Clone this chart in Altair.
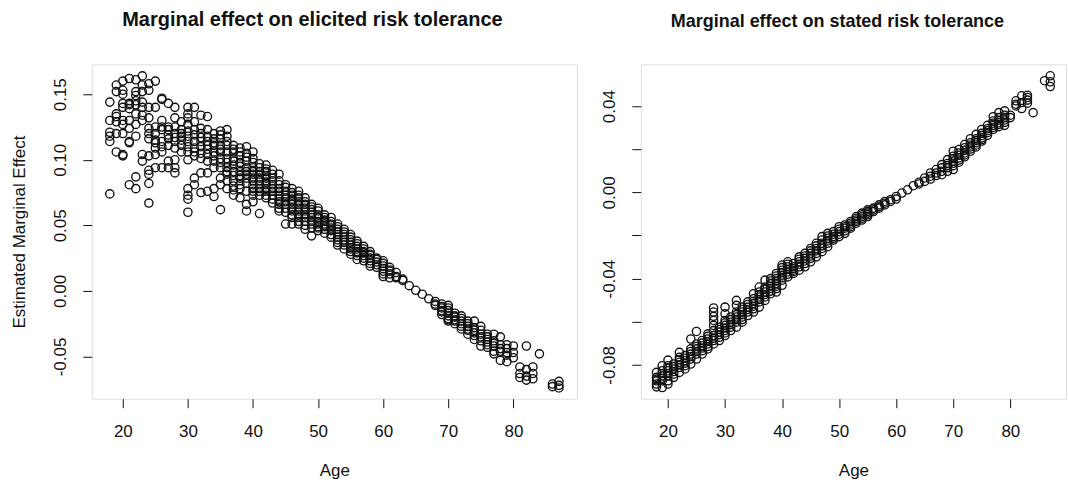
import altair as alt
import pandas as pd

# ---------------- data ----------------
AGES_ELICITED = [18, 19, 20, 21, 22, 23, 24, 25, 26, 27, 28, 29, 30, 31, 32, 33, 34, 35,
                 36, 37, 38, 39, 40, 41, 42, 43, 44, 45, 46, 47, 48, 49, 50, 51, 52, 53,
                 54, 55, 56, 57, 58, 59, 60, 61, 62, 63, 64, 65, 66, 67, 68, 69, 70, 71,
                 72, 73, 74, 75, 76, 77, 78, 79, 80, 81, 82, 83, 84, 86, 87]
EFFECT_ELICITED = [
    [0.144, 0.130, 0.121, 0.118, 0.114, 0.074],
    [0.157, 0.152, 0.135, 0.129, 0.120, 0.106, 0.133],
    [0.160, 0.153, 0.143, 0.140, 0.130, 0.127, 0.120, 0.104, 0.103, 0.150],
    [0.162, 0.143, 0.142, 0.130, 0.124, 0.114, 0.113, 0.081, 0.139],
    [0.161, 0.152, 0.149, 0.142, 0.135, 0.127, 0.118, 0.087, 0.078, 0.145],
    [0.164, 0.157, 0.152, 0.140, 0.134, 0.130, 0.104, 0.099, 0.144],
    [0.158, 0.153, 0.140, 0.132, 0.124, 0.116, 0.103, 0.092, 0.089, 0.082, 0.067, 0.120],
    [0.160, 0.140, 0.125, 0.115, 0.113, 0.109, 0.104, 0.094, 0.120],
    [0.147, 0.146, 0.130, 0.125, 0.123, 0.114, 0.106, 0.094, 0.110],
    [0.143, 0.125, 0.123, 0.119, 0.111, 0.099, 0.094, 0.116],
    [0.140, 0.132, 0.125, 0.120, 0.114, 0.109, 0.100, 0.094, 0.090, 0.117],
    [0.129, 0.123, 0.118, 0.111, 0.106, 0.115, 0.120],
    [0.140, 0.135, 0.132, 0.127, 0.122, 0.114, 0.106, 0.100, 0.078, 0.073, 0.070, 0.060, 0.118, 0.110],
    [0.140, 0.129, 0.123, 0.114, 0.109, 0.103, 0.086, 0.081, 0.119, 0.106],
    [0.134, 0.124, 0.120, 0.114, 0.105, 0.101, 0.090, 0.075, 0.117, 0.110],
    [0.133, 0.123, 0.118, 0.111, 0.104, 0.099, 0.090, 0.076, 0.114, 0.108],
    [0.120, 0.116, 0.111, 0.106, 0.099, 0.094, 0.078, 0.072, 0.113, 0.103],
    [0.122, 0.116, 0.111, 0.106, 0.101, 0.094, 0.086, 0.081, 0.062, 0.119, 0.108, 0.098],
    [0.123, 0.118, 0.114, 0.106, 0.101, 0.094, 0.089, 0.084, 0.078, 0.111, 0.098, 0.091],
    [0.111, 0.106, 0.101, 0.096, 0.091, 0.084, 0.077, 0.073, 0.108, 0.099, 0.088, 0.080],
    [0.109, 0.103, 0.098, 0.091, 0.086, 0.081, 0.071, 0.106, 0.095, 0.088, 0.078],
    [0.110, 0.105, 0.099, 0.094, 0.089, 0.082, 0.076, 0.066, 0.061, 0.102, 0.091, 0.086],
    [0.106, 0.101, 0.094, 0.089, 0.084, 0.078, 0.073, 0.068, 0.098, 0.091, 0.086, 0.081, 0.076],
    [0.097, 0.094, 0.089, 0.084, 0.078, 0.073, 0.059, 0.091, 0.086, 0.081, 0.076],
    [0.096, 0.091, 0.086, 0.081, 0.076, 0.071, 0.093, 0.088, 0.083, 0.078, 0.073],
    [0.092, 0.089, 0.084, 0.078, 0.073, 0.067, 0.086, 0.081, 0.076, 0.070],
    [0.089, 0.084, 0.078, 0.073, 0.068, 0.063, 0.061, 0.081, 0.076, 0.070, 0.066],
    [0.081, 0.076, 0.071, 0.066, 0.051, 0.079, 0.073, 0.068, 0.063, 0.060],
    [0.078, 0.073, 0.068, 0.063, 0.058, 0.051, 0.075, 0.070, 0.066, 0.061, 0.056],
    [0.076, 0.071, 0.066, 0.061, 0.056, 0.051, 0.073, 0.068, 0.063, 0.058, 0.053],
    [0.071, 0.066, 0.061, 0.056, 0.047, 0.068, 0.063, 0.058, 0.053, 0.050],
    [0.066, 0.062, 0.058, 0.053, 0.048, 0.042, 0.064, 0.060, 0.056, 0.051],
    [0.063, 0.058, 0.053, 0.049, 0.046, 0.061, 0.056, 0.051, 0.048],
    [0.058, 0.054, 0.051, 0.047, 0.044, 0.056, 0.053, 0.049],
    [0.056, 0.051, 0.048, 0.043, 0.041, 0.053, 0.050, 0.046],
    [0.051, 0.047, 0.043, 0.039, 0.035, 0.049, 0.045, 0.041, 0.037],
    [0.047, 0.043, 0.039, 0.035, 0.032, 0.045, 0.041, 0.037],
    [0.043, 0.039, 0.035, 0.032, 0.028, 0.041, 0.037, 0.033, 0.030],
    [0.038, 0.034, 0.030, 0.027, 0.024, 0.036, 0.032, 0.029],
    [0.034, 0.030, 0.027, 0.023, 0.032, 0.029, 0.025],
    [0.030, 0.027, 0.023, 0.019, 0.028, 0.025, 0.021],
    [0.025, 0.022, 0.018, 0.024, 0.020],
    [0.023, 0.019, 0.015, 0.011, 0.021, 0.017, 0.013],
    [0.018, 0.015, 0.013, 0.010, 0.016],
    [0.014, 0.011, 0.010],
    [0.009, 0.008],
    [0.004],
    [0.0005],
    [-0.0025],
    [-0.006],
    [-0.008, -0.010, -0.011],
    [-0.010, -0.013, -0.015, -0.018, -0.012, -0.016],
    [-0.011, -0.015, -0.019, -0.022, -0.023, -0.013, -0.017, -0.021],
    [-0.017, -0.020, -0.023, -0.025, -0.019, -0.022],
    [-0.019, -0.023, -0.027, -0.029, -0.021, -0.025],
    [-0.023, -0.027, -0.030, -0.033, -0.025, -0.029],
    [-0.023, -0.028, -0.030, -0.034, -0.037, -0.032],
    [-0.027, -0.030, -0.035, -0.038, -0.042, -0.033],
    [-0.033, -0.037, -0.041, -0.043, -0.035, -0.039],
    [-0.033, -0.038, -0.042, -0.046, -0.048, -0.040],
    [-0.035, -0.041, -0.046, -0.053, -0.044],
    [-0.041, -0.044, -0.049, -0.054, -0.047],
    [-0.042, -0.047, -0.051],
    [-0.058, -0.063, -0.066],
    [-0.042, -0.060, -0.065, -0.068],
    [-0.058, -0.063, -0.067],
    [-0.048],
    [-0.071, -0.073],
    [-0.069, -0.072, -0.074],
]

AGES_STATED = AGES_ELICITED
EFFECT_STATED = [
    [-0.0835, -0.0858, -0.0874, -0.0889, -0.0902, -0.0866],
    [-0.0804, -0.0827, -0.0851, -0.0874, -0.0905, -0.0840, -0.0862],
    [-0.0778, -0.0804, -0.0827, -0.0851, -0.0874, -0.0889, -0.0815, -0.0840],
    [-0.0796, -0.0819, -0.0843, -0.0858, -0.0808, -0.0831],
    [-0.0742, -0.0765, -0.0788, -0.0812, -0.0835, -0.0776, -0.0800],
    [-0.0757, -0.0781, -0.0804, -0.0819, -0.0769, -0.0792],
    [-0.0680, -0.0726, -0.0750, -0.0773, -0.0796, -0.0738, -0.0762],
    [-0.0645, -0.0703, -0.0726, -0.0750, -0.0773, -0.0715, -0.0738],
    [-0.0687, -0.0711, -0.0734, -0.0750, -0.0699, -0.0722],
    [-0.0656, -0.0680, -0.0703, -0.0726, -0.0668, -0.0692, -0.0715],
    [-0.0536, -0.0555, -0.0575, -0.0594, -0.0617, -0.0641, -0.0664, -0.0687, -0.0703, -0.0676],
    [-0.0625, -0.0648, -0.0672, -0.0687, -0.0636, -0.0660],
    [-0.0532, -0.0563, -0.0594, -0.0617, -0.0641, -0.0664, -0.0606, -0.0629, -0.0652],
    [-0.0578, -0.0602, -0.0625, -0.0641, -0.0590, -0.0613],
    [-0.0501, -0.0524, -0.0555, -0.0578, -0.0602, -0.0625, -0.0567, -0.0590],
    [-0.0532, -0.0555, -0.0578, -0.0602, -0.0543, -0.0567, -0.0590],
    [-0.0508, -0.0532, -0.0555, -0.0571, -0.0520, -0.0543],
    [-0.0470, -0.0493, -0.0516, -0.0540, -0.0555, -0.0505, -0.0528],
    [-0.0439, -0.0462, -0.0485, -0.0508, -0.0532, -0.0474, -0.0497],
    [-0.0407, -0.0439, -0.0462, -0.0485, -0.0501, -0.0450, -0.0474],
    [-0.0400, -0.0423, -0.0446, -0.0470, -0.0411, -0.0435, -0.0458],
    [-0.0376, -0.0400, -0.0423, -0.0446, -0.0462, -0.0388, -0.0411, -0.0435],
    [-0.0337, -0.0361, -0.0384, -0.0407, -0.0431, -0.0349, -0.0372, -0.0396],
    [-0.0322, -0.0345, -0.0369, -0.0392, -0.0333, -0.0357, -0.0380],
    [-0.0345, -0.0361, -0.0376, -0.0330, -0.0353, -0.0368],
    [-0.0299, -0.0322, -0.0345, -0.0361, -0.0310, -0.0333],
    [-0.0283, -0.0306, -0.0330, -0.0345, -0.0295, -0.0318],
    [-0.0260, -0.0283, -0.0306, -0.0322, -0.0271, -0.0295],
    [-0.0236, -0.0260, -0.0283, -0.0299, -0.0248, -0.0271],
    [-0.0205, -0.0236, -0.0260, -0.0275, -0.0221, -0.0248],
    [-0.0190, -0.0213, -0.0236, -0.0252, -0.0202, -0.0225],
    [-0.0182, -0.0205, -0.0221, -0.0194, -0.0213],
    [-0.0159, -0.0182, -0.0205, -0.0171, -0.0194],
    [-0.0151, -0.0166, -0.0190, -0.0159, -0.0178],
    [-0.0135, -0.0151, -0.0166, -0.0143, -0.0159],
    [-0.0112, -0.0128, -0.0143, -0.0120, -0.0135],
    [-0.0096, -0.0112, -0.0128, -0.0104, -0.0120],
    [-0.0081, -0.0096, -0.0112, -0.0089, -0.0104],
    [-0.0073, -0.0089, -0.0081],
    [-0.0058, -0.0073, -0.0066],
    [-0.0042, -0.0058, -0.0050],
    [-0.0034, -0.0042],
    [-0.0019, -0.0031],
    [-0.0003],
    [0.0012],
    [0.0031],
    [0.0047, 0.0039],
    [0.0067, 0.0051],
    [0.0090, 0.0075, 0.0062],
    [0.0106, 0.0090, 0.0078],
    [0.0129, 0.0114, 0.0098, 0.0082],
    [0.0152, 0.0134, 0.0114, 0.0098, 0.0124],
    [0.0191, 0.0168, 0.0145, 0.0124, 0.0106, 0.0157, 0.0135],
    [0.0199, 0.0183, 0.0160, 0.0140, 0.0172, 0.0150],
    [0.0222, 0.0207, 0.0183, 0.0165, 0.0195, 0.0174],
    [0.0249, 0.0230, 0.0211, 0.0191, 0.0220, 0.0201],
    [0.0269, 0.0249, 0.0230, 0.0211, 0.0240, 0.0220],
    [0.0292, 0.0274, 0.0253, 0.0238, 0.0264, 0.0245],
    [0.0311, 0.0295, 0.0277, 0.0286, 0.0265],
    [0.0351, 0.0331, 0.0311, 0.0292, 0.0321, 0.0301],
    [0.0370, 0.0347, 0.0323, 0.0305, 0.0335, 0.0315],
    [0.0378, 0.0358, 0.0336, 0.0311, 0.0347, 0.0325],
    [0.0358, 0.0347],
    [0.0425, 0.0409, 0.0401],
    [0.0448, 0.0417, 0.0389],
    [0.0451, 0.0440, 0.0428, 0.0414],
    [0.0370],
    [0.0518],
    [0.0541, 0.0513, 0.0491],
]

X_TICKS = [20, 30, 40, 50, 60, 70, 80]
Y_TICKS_LEFT = [-0.05, 0.0, 0.05, 0.10, 0.15]
Y_TICKS_RIGHT = [-0.08, -0.06, -0.04, -0.02, 0.0, 0.02, 0.04]
Y_LABELS_RIGHT = ["0.04", "0.00", "-0.04", "-0.08"]

TITLE_LEFT = "Marginal effect on elicited risk tolerance"
TITLE_RIGHT = "Marginal effect on stated risk tolerance"


def flatten(ages, groups):
    rows = []
    for a, vals in zip(ages, groups):
        for v in vals:
            rows.append({"Age": a, "Effect": v})
    return pd.DataFrame(rows)


df_left = flatten(AGES_ELICITED, EFFECT_ELICITED)
df_right = flatten(AGES_STATED, EFFECT_STATED)

FONT = "Liberation Sans"
fmt = "replace(format(datum.value, '.2f'), '\u2212', '-')"

x_common = dict(
    values=X_TICKS, format="d", tickSize=9, tickColor="#111", tickWidth=1,
    labelFontSize=17, labelPadding=16, labelColor="#111", labelFont=FONT,
    domain=False, grid=False, titleFontSize=17, titleFontWeight="normal",
    titleFont=FONT, titleColor="#111", titlePadding=26, minExtent=38, maxExtent=38,
)


def y_axis(values, label_expr, title):
    kw = dict(
        values=values, labelExpr=label_expr, tickSize=9, tickColor="#111", tickWidth=1,
        labelFontSize=17, labelPadding=13, labelAngle=-90, labelAlign="center",
        labelBaseline="bottom", labelColor="#111", labelFont=FONT,
        domain=False, grid=False, minExtent=38, maxExtent=38,
    )
    if title:
        kw.update(title=title, titleFontSize=17, titleFontWeight="normal",
                  titleFont=FONT, titleColor="#111", titlePadding=25)
    else:
        kw.update(title=None)
    return alt.Axis(**kw)


def panel(df, ydom, yaxis, width, title, tsize, tdx, toff):
    return alt.Chart(df).mark_point(
        shape="circle", filled=False, size=68, strokeWidth=1.35, color="#111", opacity=1
    ).encode(
        x=alt.X("Age:Q", scale=alt.Scale(domain=[15.24, 89.76], nice=False, zero=False),
                axis=alt.Axis(title="Age", **x_common)),
        y=alt.Y("Effect:Q", scale=alt.Scale(domain=ydom, nice=False, zero=False),
                axis=yaxis),
    ).properties(
        width=width, height=335,
        title=alt.TitleParams(title, fontSize=tsize, fontWeight="bold", font=FONT,
                              color="#111", anchor="middle", offset=toff, dx=tdx),
    )


left = panel(df_left, [-0.0822, 0.1728],
             y_axis(Y_TICKS_LEFT, fmt, "Estimated Marginal Effect"), 486, TITLE_LEFT,
             20, -22, 34)

right_expr = ("indexof(" + str(Y_LABELS_RIGHT) + ", " + fmt + ") >= 0 ? " + fmt + " : ''")
right = panel(df_right, [-0.0957, 0.0594],
              y_axis(Y_TICKS_RIGHT, right_expr, None), 426, TITLE_RIGHT,
              18, -16, 33)

chart = alt.hconcat(left, right, spacing=22).properties(
    padding={"left": 10, "top": 9, "right": 1, "bottom": 8}
).configure_view(stroke="#222", strokeWidth=1.2).configure(background="white")

chart.save("out.html", embed_options={"renderer": "svg", "actions": False})
